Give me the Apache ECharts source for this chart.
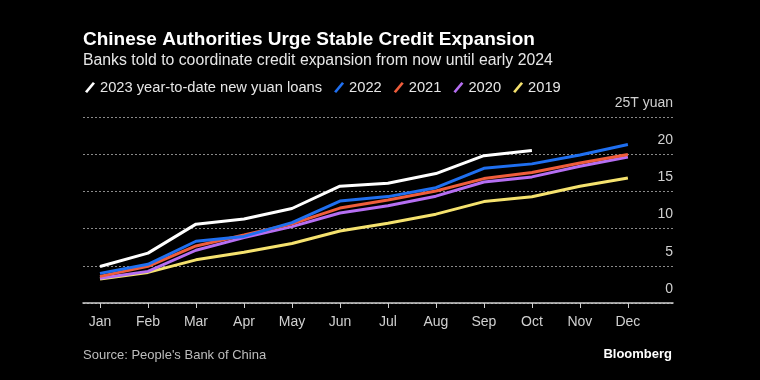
<!DOCTYPE html>
<html>
<head>
<meta charset="utf-8">
<script src="https://cdn.jsdelivr.net/npm/echarts@6/dist/echarts.min.js"></script>
<style>
html,body{margin:0;padding:0;background:#000;}
#c{width:760px;height:380px;}
</style>
</head>
<body>
<div id="c"></div>
<script>
var months = ['Jan','Feb','Mar','Apr','May','Jun','Jul','Aug','Sep','Oct','Nov','Dec'];
var seriesNames = ['2023 year-to-date new yuan loans','2022','2021','2020','2019'];
var y2023 = [4.9, 6.7, 10.6, 11.3, 12.7, 15.7, 16.1, 17.4, 19.8, 20.5];
var y2022 = [3.98, 5.2, 8.3, 8.95, 10.8, 13.7, 14.3, 15.5, 18.1, 18.7, 19.9, 21.3];
var y2021 = [3.58, 4.94, 7.67, 9.14, 10.64, 12.76, 13.84, 15.06, 16.72, 17.55, 18.82, 19.95];
var y2020 = [3.34, 4.25, 7.09, 8.79, 10.27, 12.09, 13.08, 14.36, 16.26, 16.95, 18.38, 19.63];
var y2019 = [3.23, 4.11, 5.80, 6.82, 8.00, 9.67, 10.73, 11.94, 13.63, 14.29, 15.68, 16.81];
var yTicks = [0, 5, 10, 15, 20, 25];
var colors = ['#ffffff', '#1f6ff0', '#ef5d3b', '#b56ef2', '#f5e26e'];

var allData = [y2023, y2022, y2021, y2020, y2019];
var font = 'Liberation Sans';
var icon = 'path://M0,9 L7.5,0 L9.5,1.6 L2,10.6 Z';

var chart = echarts.init(document.getElementById('c'));
var series = [];
for (var s = allData.length - 1; s >= 0; s--) {
  var d = allData[s].map(function (v, i) { return [i, v]; });
  series.push({
    name: seriesNames[s],
    type: 'line',
    data: d,
    symbol: 'none',
    lineStyle: { color: colors[s], width: 3 },
    itemStyle: { color: colors[s] },
    z: 10 - s
  });
}

chart.setOption({
  backgroundColor: '#000000',
  animation: false,
  title: [
    { text: 'Chinese Authorities Urge Stable Credit Expansion', left: 78, top: 25,
      textStyle: { color: '#ffffff', fontFamily: font, fontWeight: 'bold', fontSize: 19 } },
    { text: 'Banks told to coordinate credit expansion from now until early 2024', left: 78, top: 48,
      textStyle: { color: '#e6e6e6', fontFamily: font, fontWeight: 'normal', fontSize: 15.8 } },
    { text: 'Source: People\'s Bank of China', left: 78, top: 344,
      textStyle: { color: '#bdbdbd', fontFamily: font, fontWeight: 'normal', fontSize: 13 } },
    { text: 'Bloomberg', right: 83, top: 343,
      textStyle: { color: '#ffffff', fontFamily: font, fontWeight: 'bold', fontSize: 13 } }
  ],
  legend: {
    data: seriesNames.map(function (n, i) { return { name: n, icon: icon, itemStyle: { color: colors[i] } }; }),
    left: 80, top: 75,
    itemWidth: 10, itemHeight: 12, itemGap: 12,
    textStyle: { color: '#e6e6e6', fontFamily: font, fontSize: 14.7 },
    selectedMode: false
  },
  grid: { left: 83, right: 87, top: 117, bottom: 77 },
  xAxis: {
    type: 'value',
    min: -0.354, max: 11.94, interval: 1,
    splitLine: { show: false },
    axisLine: { show: true, lineStyle: { color: '#d0d0d0', width: 1.5 } },
    axisTick: { show: true, length: 5, lineStyle: { color: '#d0d0d0' },
      customValues: months.map(function (m, i) { return i; }) },
    axisLabel: {
      color: '#d0d0d0', fontFamily: font, fontSize: 14, margin: 12,
      customValues: months.map(function (m, i) { return i; }),
      formatter: function (v) { return months[Math.round(v)]; }
    }
  },
  yAxis: {
    type: 'value', position: 'right',
    min: yTicks[0], max: yTicks[yTicks.length - 1], interval: 5,
    axisLine: { show: false }, axisTick: { show: false },
    splitLine: { show: true, lineStyle: { color: '#8a8a8a', type: [2, 2], width: 1 } },
    axisLabel: {
      inside: true, margin: 0, color: '#d0d0d0', fontFamily: font, fontSize: 14,
      verticalAlign: 'bottom', padding: [0, 0, 7, 0],
      formatter: function (v) { return v === 25 ? '25T yuan' : String(v); }
    }
  },
  series: series
});
</script>
</body>
</html>
